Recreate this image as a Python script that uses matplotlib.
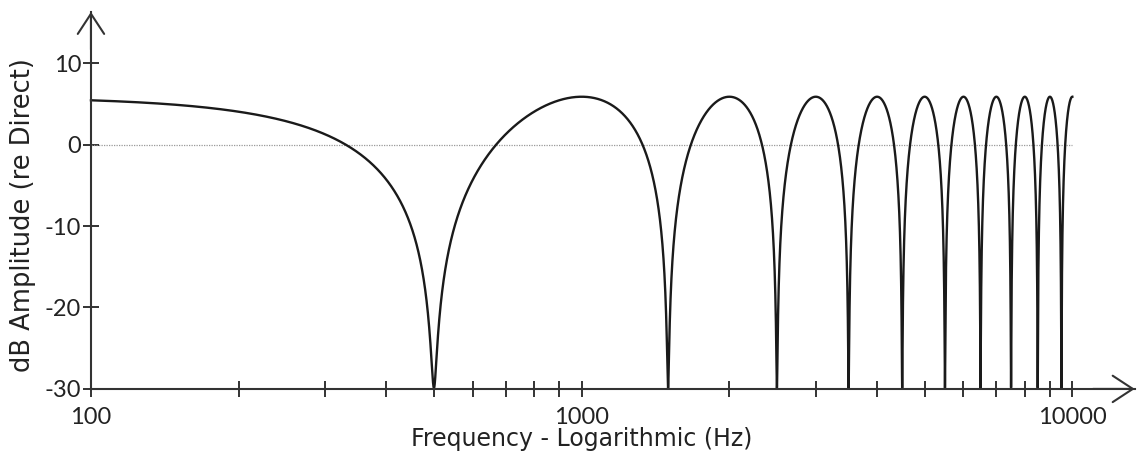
import numpy as np
import matplotlib
matplotlib.use("Agg")
import matplotlib.pyplot as plt
from matplotlib.ticker import FixedLocator, NullFormatter

plt.rcParams["font.family"] = ["Lato", "DejaVu Sans"]

# Comb-filter response of a direct sound plus one reflection
reflection_delay_ms = 1.0      # nulls at 500, 1500, 2500 ... Hz
reflection_gain = 0.968        # peaks near +6 dB, nulls bottom out near -30 dB
freq_range_hz = [100, 10000]

y_ticks = [10, 0, -10, -20, -30]
x_major_ticks = [100, 1000, 10000]
x_minor_ticks = [200, 300, 400, 500, 600, 700, 800, 900,
                 2000, 3000, 4000, 5000, 6000, 7000, 8000, 9000]

freqs = np.geomspace(freq_range_hz[0], freq_range_hz[1], 20000)
tau = reflection_delay_ms / 1000.0
response = np.abs(1 + reflection_gain * np.exp(-2j * np.pi * freqs * tau))
level_db = np.maximum(20 * np.log10(response), -30)

fig = plt.figure(figsize=(11.37, 4.57), dpi=100)
ax = fig.add_axes([0.080, 0.149, 0.918, 0.825])

ax.set_xscale("log")
ax.set_xlim(100, 13400)
ax.set_ylim(-30, 16.3)

ax.axhline(0, xmin=0, xmax=np.log10(10000 / 100) / np.log10(13400 / 100),
           color="#999999", lw=0.9, ls=(0, (1, 1)))
ax.plot(freqs, level_db, color="#1a1a1a", lw=1.7, clip_on=False)

for side in ["top", "right"]:
    ax.spines[side].set_visible(False)
for side in ["left", "bottom"]:
    ax.spines[side].set_linewidth(1.5)
    ax.spines[side].set_color("#333333")

# open chevron arrow heads at the ends of both axes
head = "->,head_length=1.45,head_width=0.95"
ax.annotate("", xy=(1.0, 0), xytext=(0.96, 0), xycoords="axes fraction",
            arrowprops=dict(arrowstyle=head, lw=1.5, color="#333333",
                            shrinkA=0, shrinkB=0))
ax.annotate("", xy=(0, 1.0), xytext=(0, 0.90), xycoords="axes fraction",
            arrowprops=dict(arrowstyle=head, lw=1.5, color="#333333",
                            shrinkA=0, shrinkB=0))

ax.set_yticks(y_ticks)
ax.set_yticklabels([str(v) for v in y_ticks])
ax.xaxis.set_major_locator(FixedLocator(x_major_ticks))
ax.set_xticklabels([str(v) for v in x_major_ticks])
ax.xaxis.set_minor_locator(FixedLocator(x_minor_ticks))
ax.xaxis.set_minor_formatter(NullFormatter())

ax.tick_params(axis="both", which="both", direction="inout", length=12,
               width=1.4, color="#333333", labelsize=17, labelcolor="#222222")
ax.tick_params(axis="x", which="major", pad=7)
ax.tick_params(axis="y", which="major", pad=1)

ax.set_xlabel("Frequency - Logarithmic (Hz)", fontsize=17, color="#222222",
              family="DejaVu Sans")
ax.set_ylabel("dB Amplitude (re Direct)", fontsize=18.5, color="#222222",
              family="DejaVu Sans")
ax.xaxis.set_label_coords(0.470, -0.102)
ax.yaxis.set_label_coords(-0.053, 0.46)

fig.savefig("out.png", dpi=100, facecolor="white")
